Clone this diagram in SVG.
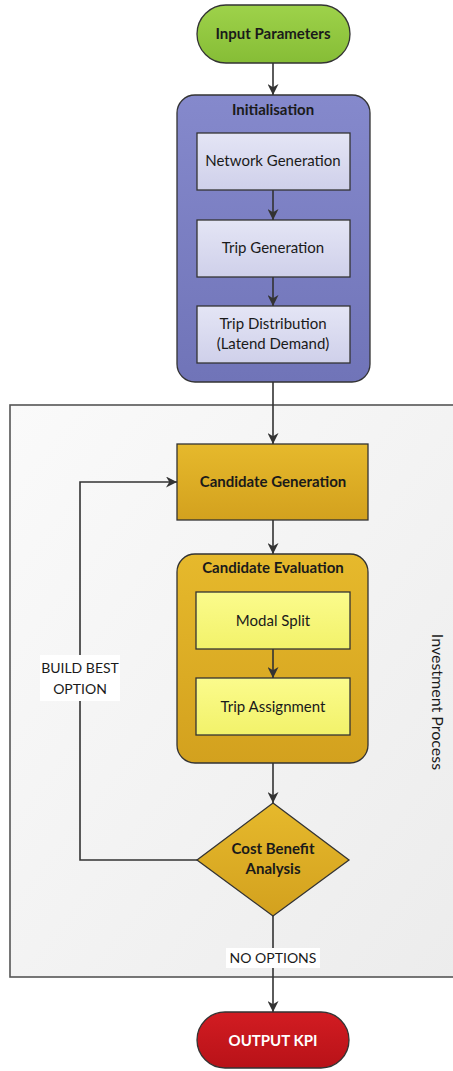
<svg xmlns="http://www.w3.org/2000/svg" width="453" height="1071" viewBox="0 0 453 1071">
<defs>
<linearGradient id="gGreen" x1="0" y1="0" x2="0" y2="1"><stop offset="0" stop-color="#9ed24a"/><stop offset="1" stop-color="#86bd36"/></linearGradient>
<linearGradient id="gBlue" x1="0" y1="0" x2="0" y2="1"><stop offset="0" stop-color="#8589cc"/><stop offset="1" stop-color="#7074b8"/></linearGradient>
<linearGradient id="gLav" x1="0" y1="0" x2="0" y2="1"><stop offset="0" stop-color="#e4e5f5"/><stop offset="1" stop-color="#cfd0ea"/></linearGradient>
<linearGradient id="gGold" x1="0" y1="0" x2="0" y2="1"><stop offset="0" stop-color="#e6b92c"/><stop offset="1" stop-color="#d3a11e"/></linearGradient>
<linearGradient id="gYel" x1="0" y1="0" x2="0" y2="1"><stop offset="0" stop-color="#fbfb8c"/><stop offset="1" stop-color="#f2f26a"/></linearGradient>
<linearGradient id="gRed" x1="0" y1="0" x2="0" y2="1"><stop offset="0" stop-color="#d21c22"/><stop offset="1" stop-color="#b81218"/></linearGradient>
<linearGradient id="gPanel" x1="0" y1="0" x2="1" y2="1"><stop offset="0" stop-color="#fafafa"/><stop offset="1" stop-color="#ececec"/></linearGradient>
<marker id="arr" viewBox="0 0 10 10" refX="10" refY="5" markerWidth="11" markerHeight="11" markerUnits="userSpaceOnUse" orient="auto"><path d="M0,0 L10,5 L0,10 L3,5 z" fill="#333"/></marker>
</defs>
<style>
.lbl{font-family:Lato,"Open Sans","Liberation Sans",sans-serif;font-size:15px;fill:#1a1a1a;text-anchor:middle}
.b{font-weight:bold}
.sm{font-size:14px}
.edge{fill:none;stroke:#333;stroke-width:1.6}
.box{stroke:#333;stroke-width:1.3}
</style>
<rect width="453" height="1071" fill="#ffffff"/>
<g id="panel">
<rect x="10" y="405" width="450" height="572" fill="url(#gPanel)" stroke="#555" stroke-width="1.6"/>
<text class="lbl" transform="translate(436,702) rotate(90)" dominant-baseline="middle" style="font-size:16px">Investment Process</text>
</g>
<g id="input-parameters">
<rect class="box" x="197" y="5" width="153" height="58" rx="29" fill="url(#gGreen)"/>
<text class="lbl b" x="273" y="39">Input Parameters</text>
</g>
<g id="initialisation">
<rect class="box" x="177" y="95" width="193" height="287" rx="18" fill="url(#gBlue)"/>
<text class="lbl b" x="273" y="115">Initialisation</text>
</g>
<g id="network-generation">
<rect class="box" x="197" y="133" width="153" height="57" fill="url(#gLav)"/>
<text class="lbl" x="273" y="166">Network Generation</text>
</g>
<g id="trip-generation">
<rect class="box" x="197" y="220" width="153" height="57" fill="url(#gLav)"/>
<text class="lbl" x="273" y="253">Trip Generation</text>
</g>
<g id="trip-distribution">
<rect class="box" x="197" y="306" width="153" height="57" fill="url(#gLav)"/>
<text class="lbl" x="273" y="329">Trip Distribution</text>
<text class="lbl" x="273" y="349">(Latend Demand)</text>
</g>
<g id="candidate-generation">
<rect class="box" x="177" y="444" width="191" height="76" fill="url(#gGold)"/>
<text class="lbl b" x="273" y="487">Candidate Generation</text>
</g>
<g id="candidate-evaluation">
<rect class="box" x="177" y="554" width="191" height="209" rx="18" fill="url(#gGold)"/>
<text class="lbl b" x="273" y="573">Candidate Evaluation</text>
</g>
<g id="modal-split">
<rect class="box" x="196" y="592" width="154" height="57" fill="url(#gYel)"/>
<text class="lbl" x="273" y="626">Modal Split</text>
</g>
<g id="trip-assignment">
<rect class="box" x="196" y="678" width="154" height="57" fill="url(#gYel)"/>
<text class="lbl" x="273" y="712">Trip Assignment</text>
</g>
<g id="cost-benefit-analysis">
<polygon class="box" points="273,803 349,860 273,916 197,860" fill="url(#gGold)"/>
<text class="lbl b" x="273" y="854">Cost Benefit</text>
<text class="lbl b" x="273" y="874">Analysis</text>
</g>
<g id="output-kpi">
<rect class="box" x="197" y="1012" width="152" height="56" rx="28" fill="url(#gRed)"/>
<text class="lbl b" x="273" y="1046" style="fill:#ffffff">OUTPUT KPI</text>
</g>
<g id="connectors">
<line class="edge" x1="273" y1="63" x2="273" y2="95" marker-end="url(#arr)"/>
<line class="edge" x1="273" y1="190" x2="273" y2="220" marker-end="url(#arr)"/>
<line class="edge" x1="273" y1="277" x2="273" y2="306" marker-end="url(#arr)"/>
<line class="edge" x1="273" y1="382" x2="273" y2="444" marker-end="url(#arr)"/>
<line class="edge" x1="273" y1="520" x2="273" y2="554" marker-end="url(#arr)"/>
<line class="edge" x1="273" y1="649" x2="273" y2="678" marker-end="url(#arr)"/>
<line class="edge" x1="273" y1="763" x2="273" y2="803" marker-end="url(#arr)"/>
<polyline class="edge" points="197,860 80,860 80,482 177,482" marker-end="url(#arr)"/>
<line class="edge" x1="273" y1="916" x2="273" y2="1012" marker-end="url(#arr)"/>
<rect x="40" y="655" width="80" height="46" fill="#ffffff"/>
<text class="lbl sm" x="80" y="673">BUILD BEST</text>
<text class="lbl sm" x="80" y="694">OPTION</text>
<rect x="226" y="948" width="94" height="20" fill="#ffffff"/>
<text class="lbl sm" x="273" y="963">NO OPTIONS</text>
</g>
</svg>
